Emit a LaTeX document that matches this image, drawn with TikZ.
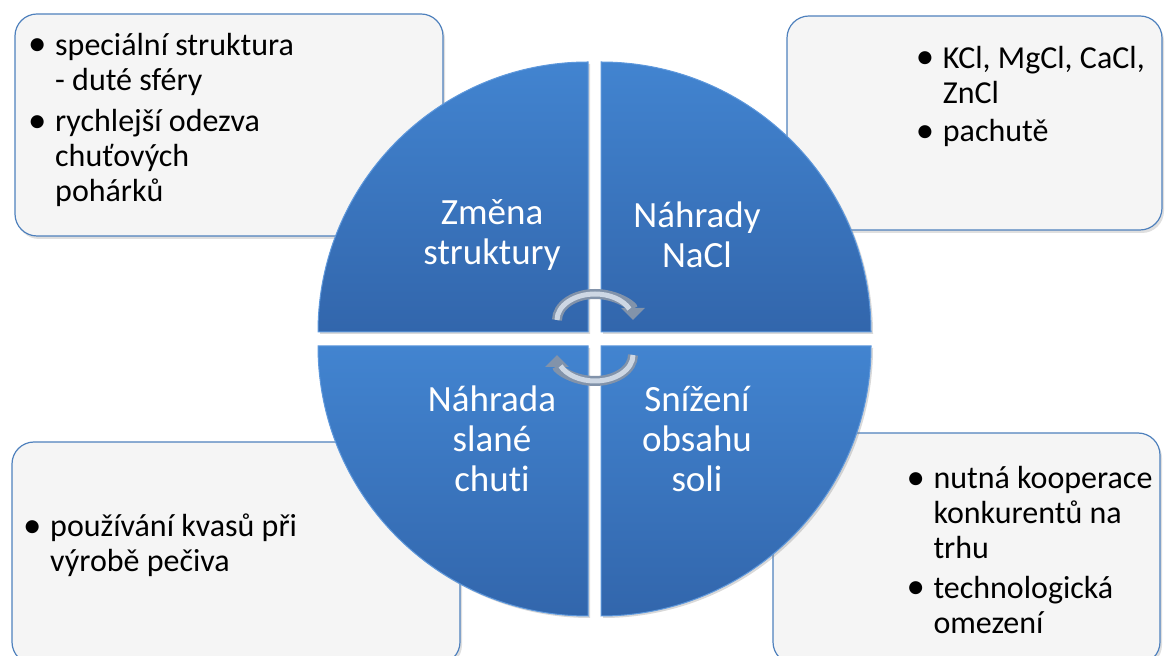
\documentclass[tikz,border=0pt]{standalone}
\usepackage{fontspec}
\setmainfont{Carlito}[Ligatures=CommonOff]
\usetikzlibrary{arrows.meta,shadows}

\definecolor{boxfill}{HTML}{F5F5F5}
\definecolor{boxline}{HTML}{4F81BD}
\definecolor{quadtop}{HTML}{4284D0}
\definecolor{quadbot}{HTML}{3266AC}
\definecolor{quadedge}{HTML}{5E98DC}
\definecolor{cycdark}{HTML}{8293AA}
\definecolor{cyclight}{HTML}{CDD7E4}

\newcommand{\bul}{\makebox[25pt][l]{\hspace{-2pt}\raisebox{-0.5pt}{\scalebox{1.15}{\textbullet}}}}
\newcommand{\ind}{\hspace*{25pt}}

\tikzset{
  infobox/.style={draw=boxline, line width=1.2pt, fill=boxfill, rounded corners=22pt,
    drop shadow={opacity=0.25, shadow xshift=2pt, shadow yshift=-3pt}},
  quad/.style={top color=quadtop, bottom color=quadbot, draw=quadedge, line width=1pt,
    drop shadow={opacity=0.3, shadow xshift=2pt, shadow yshift=-2pt}},
  listtext/.style={anchor=north west, inner sep=0pt, align=left, text=black,
    font=\fontsize{32}{35}\selectfont},
  quadtext/.style={align=center, text=white, inner sep=0pt, font=\fontsize{37}{40}\selectfont},
  cycarrow/.style={draw=cycdark, line width=10pt, -{Triangle[length=12pt,width=23pt]}},
  cycshine/.style={draw=cyclight, line width=5pt},
}

\begin{document}
\begin{tikzpicture}[x=1pt,y=1pt]
\useasboundingbox (0,0) rectangle (1165,656);

% side boxes
\draw[infobox] (15,420) rectangle (443,642);
\draw[infobox] (787,426) rectangle (1162,640);
\draw[infobox] (12,-8) rectangle (460,214);
\draw[infobox] (773,-8) rectangle (1160,223);

% four quarters of the disc
\coordinate (tlq) at (588,324);
\coordinate (trq) at (601,324);
\coordinate (blq) at (588,310);
\coordinate (brq) at (601,310);
\draw[quad] (tlq) -- ++(-270pt,0) arc[start angle=180, end angle=90, radius=270pt] -- cycle;
\draw[quad] (trq) -- ++(0,270pt) arc[start angle=90, end angle=0, radius=270pt] -- cycle;
\draw[quad] (blq) -- ++(0,-270pt) arc[start angle=270, end angle=180, radius=270pt] -- cycle;
\draw[quad] (brq) -- ++(270pt,0) arc[start angle=0, end angle=-90, radius=270pt] -- cycle;

\node[quadtext] (zmena) at (492,421) {Změna\\struktury};
\node[quadtext] (nahrady) at (697,421) {Náhrady\\NaCl};
\node[quadtext] (nahrada) at (492,217) {Náhrada\\slané\\chuti};
\node[quadtext] (snizeni) at (697,217) {Snížení\\obsahu\\soli};

% cycle arrows
\coordinate (cycup) at (557,336);
\coordinate (cyclow) at (633,301);
\draw[cycarrow] (cycup) arc[start angle=180, end angle=0, x radius=38pt, y radius=26pt];
\draw[cycshine] (cycup) arc[start angle=180, end angle=25, x radius=38pt, y radius=26pt];
\draw[cycarrow] (cyclow) arc[start angle=0, end angle=-180, x radius=38pt, y radius=26pt];
\draw[cycshine] (cyclow) arc[start angle=0, end angle=-155, x radius=38pt, y radius=26pt];

% box texts
\node[listtext] (struktext) at (30,625.5)
  {\strut\bul speciální struktura\\\ind - duté sféry\\[6.7pt]
   \bul rychlejší odezva\\\ind chuťových\\\ind pohárků};
\node[listtext] (nacltext) at (917.7,612.2)
  {\strut\bul KCl, MgCl, CaCl,\\\ind ZnCl\\[3.4pt]
   \bul pachutě};
\node[listtext] (chuttext) at (25,143.8)
  {\strut\bul používání kvasů při\\\ind výrobě pečiva};
\node[listtext] (solitext) at (908.3,192.2)
  {\strut\bul nutná kooperace\\\ind konkurentů na\\\ind trhu\\[5pt]
   \bul technologická\\\ind omezení};

\end{tikzpicture}
\end{document}
